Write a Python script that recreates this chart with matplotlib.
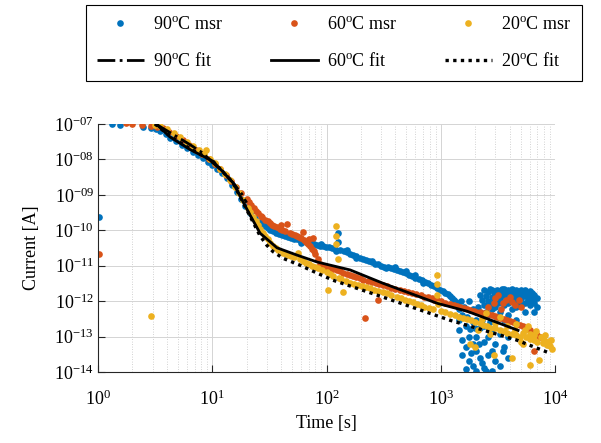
import matplotlib.pyplot as plt

plt.rcParams['font.family'] = 'Liberation Serif'
plt.rcParams['mathtext.fontset'] = 'custom'
plt.rcParams['mathtext.rm'] = 'Liberation Serif'
plt.rcParams['mathtext.it'] = 'Liberation Serif:italic'

msr_90 = [
    (1.03, 2.3e-10), (1.33, 1.0e-7), (1.56, 9.3e-8), (2.5, 8.0e-8), (2.9, 7.9e-8),
    (3.2, 7.3e-8), (3.5, 6.4e-8), (3.9, 5.1e-8), (4.3, 4.0e-8), (4.8, 3.3e-8),
    (5.4, 2.6e-8), (6.0, 2.1e-8), (6.8, 1.6e-8), (7.5, 1.3e-8), (8.3, 1.1e-8),
    (9.2, 8.5e-9), (10, 7.0e-9), (11, 5.5e-9), (12.2, 4.2e-9), (13.5, 3.0e-9),
    (15, 1.9e-9), (16.5, 1.2e-9), (18, 7.5e-10), (19.5, 4.8e-10), (21.4, 3.0e-10),
    (23.5, 2.2e-10), (26, 1.7e-10), (29, 1.3e-10), (32, 1.05e-10), (36, 8.5e-11),
    (41, 7.2e-11), (46, 6.3e-11), (52, 5.7e-11), (59, 5.2e-11), (66, 4.7e-11),
    (74, 4.3e-11), (83, 3.9e-11), (93, 3.6e-11), (105, 3.3e-11), (118, 3.0e-11),
    (125, 8.5e-11), (125, 4.6e-11), (132, 2.8e-11), (150, 2.4e-11), (170, 2.0e-11),
    (195, 1.7e-11), (220, 1.45e-11), (250, 1.25e-11), (285, 1.1e-11), (320, 9.5e-12),
    (365, 8.7e-12), (415, 7.8e-12), (470, 6.6e-12), (530, 5.6e-12), (600, 4.6e-12),
    (680, 3.9e-12), (770, 3.2e-12), (870, 2.6e-12), (980, 2.1e-12), (1100, 1.7e-12),
    (1200, 1.4e-12), (1300, 1.1e-12), (1400, 8.5e-13),
    (27.5, 1.5e-10), (30.5, 1.15e-10), (34, 9.5e-11), (38.5, 7.8e-11), (43.5, 6.8e-11),
    (49, 6.0e-11), (55, 5.5e-11), (62, 5.0e-11), (70, 4.5e-11), (78, 4.1e-11),
    (88, 3.7e-11), (99, 3.4e-11), (111, 3.1e-11), (141, 2.6e-11), (160, 2.2e-11),
    (182, 1.85e-11), (207, 1.55e-11), (235, 1.35e-11), (267, 1.15e-11), (302, 1.0e-11),
    (342, 9.0e-12), (390, 8.2e-12), (442, 7.2e-12), (500, 6.1e-12), (565, 5.1e-12),
    (640, 4.2e-12), (725, 3.5e-12), (820, 2.9e-12), (925, 2.3e-12), (1040, 1.9e-12),
    (1150, 1.55e-12), (1250, 1.25e-12), (1350, 9.5e-13),
    (60, 4.4e-11), (90, 4.2e-11), (150, 2.8e-11), (250, 1.4e-11), (400, 9.2e-12),
    (600, 5.4e-12), (900, 2.9e-12), (120, 2.6e-11), (180, 1.65e-11), (330, 8.4e-12),
    (500, 7.0e-12), (700, 3.3e-12),
    (1450, 6e-13), (1450, 3e-13), (1450, 1.5e-13), (1550, 4e-13), (1550, 8e-14),
    (1550, 3e-14), (1650, 2e-13), (1650, 5e-14), (1650, 1.2e-14), (1750, 1e-12),
    (1750, 1e-13), (1750, 2e-14), (1900, 6e-13), (1900, 2.5e-13), (1900, 6e-14),
    (1900, 1.5e-14), (2050, 3e-13), (2050, 1e-13), (2050, 4e-14), (2050, 1.1e-14),
    (2200, 1.5e-12), (2200, 5e-13), (2200, 1.8e-13), (2200, 2.5e-14), (2400, 2e-12),
    (2400, 8e-13), (2400, 2e-13), (2400, 7e-14), (2400, 1.3e-14), (2600, 1.8e-12),
    (2600, 1e-12), (2600, 4e-13), (2600, 1e-13), (2600, 3e-14), (2800, 2e-12),
    (2800, 1.3e-12), (2800, 6e-13), (2800, 1.5e-13), (2800, 4e-14), (2800, 1.1e-14),
    (3000, 1.6e-12), (3000, 7e-13), (3000, 2.5e-13), (3000, 6e-14), (3000, 2e-14),
    (3300, 1.9e-12), (3300, 1.2e-12), (3300, 5e-13), (3300, 1.2e-13), (3300, 1.5e-14),
    (3600, 2.2e-12), (3600, 1.5e-12), (3600, 8e-13), (3600, 3e-13), (3600, 5e-14),
    (3900, 2.1e-12), (3900, 1.4e-12), (3900, 9e-13), (3900, 4e-13), (3900, 1e-13),
    (3900, 2.5e-14), (4200, 2.2e-12), (4200, 1.6e-12), (4200, 1e-12), (4200, 6e-13),
    (4600, 2.0e-12), (4600, 1.5e-12), (4600, 1e-12), (4600, 7e-13), (4600, 3e-13),
    (5000, 2.1e-12), (5000, 1.7e-12), (5000, 1.2e-12), (5000, 8e-13), (5500, 2e-12),
    (5500, 1.4e-12), (5500, 9e-13), (5500, 5e-13), (6000, 1.9e-12), (6000, 1.3e-12),
    (6000, 8e-13), (6600, 1.5e-12), (6600, 9e-13), (6600, 5e-13), (7000, 1.2e-12),
    (7000, 7e-13),
    (1500, 1e-12), (1600, 7e-13), (1700, 3.5e-13), (1800, 1.6e-13), (1850, 3.5e-14),
    (2000, 1.8e-13), (2100, 7e-13), (2150, 6e-14), (2300, 1.1e-12), (2300, 3e-13),
    (2300, 1.8e-14), (2500, 1.4e-12), (2500, 5e-13), (2700, 2.2e-12), (2700, 8e-13),
    (2700, 2.5e-13), (2900, 1.8e-12), (2900, 1e-12), (3100, 2.1e-12), (3150, 9e-13),
    (3400, 1.5e-12), (3450, 2.2e-12), (3750, 1.8e-12), (3750, 1.1e-12), (4050, 1.9e-12),
    (4050, 1.2e-12), (4400, 1.8e-12), (4400, 1.3e-12), (4800, 1.8e-12), (4800, 9e-13),
    (5200, 1.5e-12), (5200, 1.9e-12), (5800, 1.7e-12), (5800, 1.1e-12), (6300, 1.7e-12),
    (6300, 1.1e-12), (3500, 4e-14), (2500, 1.1e-14),
]

msr_60 = [
    (1.03, 2.1e-11), (1.76, 1.05e-7), (1.98, 1.0e-7), (2.43, 9.3e-8), (2.9, 8.8e-8),
    (3.3, 8.5e-8), (3.7, 7.5e-8), (4.2, 6.0e-8), (4.8, 4.6e-8), (5.5, 3.5e-8),
    (6.3, 2.6e-8), (7.2, 1.9e-8), (8.2, 1.4e-8), (9.3, 1.05e-8), (10.5, 7.5e-9),
    (11.8, 5.2e-9), (13.2, 3.6e-9), (14.7, 2.5e-9), (16.3, 1.7e-9), (18, 1.15e-9),
    (20, 7.8e-10), (22, 5.2e-10), (24, 3.6e-10), (26.5, 2.6e-10), (29, 2.0e-10),
    (32, 1.6e-10), (35, 1.3e-10), (39, 1.1e-10), (43, 9.5e-11), (45, 1.5e-10),
    (48, 8.5e-11), (53, 7.5e-11), (58, 6.4e-11), (62, 9e-11), (66, 4.8e-11),
    (72, 3.5e-11), (76, 6.0e-11), (80, 2.2e-11), (88, 1.1e-11), (100, 9.5e-12),
    (115, 8.2e-12), (131, 7.1e-12), (150, 5.8e-12), (170, 5.0e-12), (196, 4.4e-12),
    (217, 3.3e-13), (230, 3.8e-12), (270, 3.2e-12), (280, 1.1e-12), (312, 2.8e-12),
    (370, 2.4e-12), (440, 2.0e-12), (520, 1.8e-12), (610, 1.6e-12), (720, 1.35e-12),
    (830, 1.2e-12), (930, 1.05e-12), (1100, 9.0e-13), (1300, 7.8e-13), (1470, 6.8e-13),
    (1700, 6.0e-13), (1950, 5.3e-13), (2200, 4.9e-13), (2600, 7e-13), (2600, 4.2e-13),
    (3000, 1.2e-12), (3000, 3.7e-13), (3300, 3.3e-13), (3500, 9e-13), (3800, 2.9e-13),
    (4000, 1.3e-12), (4300, 2.5e-13), (4500, 8e-13), (4940, 2.1e-13), (5000, 7e-13),
    (5600, 1.8e-13), (6000, 1.5e-13), (6500, 4e-14), (6800, 1.2e-13), (7400, 1.0e-13),
    (21, 6.3e-10), (23, 4.3e-10), (25, 3.0e-10), (27.5, 2.3e-10), (30.5, 1.8e-10),
    (33.5, 1.45e-10), (37, 1.2e-10), (41, 1.0e-10), (50, 8e-11), (55, 7e-11),
    (60, 6e-11), (64, 5.2e-11), (69, 4.2e-11), (74, 3.0e-11), (78, 2.6e-11),
    (84, 1.5e-11), (93, 1.0e-11), (107, 8.8e-12), (123, 7.6e-12), (140, 6.4e-12),
    (160, 5.4e-12), (183, 4.7e-12), (210, 4.0e-12), (250, 3.5e-12), (290, 3.0e-12),
    (340, 2.6e-12), (400, 2.2e-12), (480, 1.9e-12), (565, 1.7e-12), (665, 1.45e-12),
    (775, 1.28e-12), (880, 1.1e-12), (1000, 9.8e-13), (1200, 8.4e-13), (1400, 7.2e-13),
    (1600, 6.4e-13), (1820, 5.6e-13), (2050, 5.1e-13), (2400, 4.5e-13), (2800, 4e-13),
    (3100, 3.5e-13), (3550, 3.1e-13), (4050, 2.7e-13), (4600, 2.3e-13), (5200, 2e-13),
    (5800, 1.6e-13), (6400, 1.3e-13), (7000, 1.1e-13),
    (2900, 9e-13), (3200, 1.5e-12), (3700, 1.1e-12), (4200, 9.5e-13), (4800, 1.1e-12),
    (3400, 6e-13), (40, 1.4e-10), (70, 5.5e-11),
]

msr_20 = [
    (2.9, 3.8e-13), (3.15, 9.5e-8), (3.5, 8.6e-8), (4.0, 7.0e-8), (4.6, 5.5e-8),
    (5.2, 4.3e-8), (6.0, 3.2e-8), (6.8, 2.4e-8), (7.7, 1.8e-8), (8.9, 1.9e-8),
    (8.5, 1.4e-8), (9.5, 1.05e-8), (10.5, 7.8e-9), (11.7, 5.5e-9), (13, 3.8e-9),
    (14.3, 2.6e-9), (15.7, 1.7e-9), (17, 1.1e-9), (18.6, 7.0e-10), (20.5, 4.3e-10),
    (22.8, 2.4e-10), (25, 1.4e-10), (27.8, 8.5e-11), (30.5, 5.5e-11), (34, 3.6e-11),
    (38, 2.8e-11), (41.6, 2.3e-11), (46, 2.0e-11), (52, 1.75e-11), (56, 2.3e-11),
    (58.6, 1.55e-11), (66, 1.2e-11), (75, 1.0e-11), (85, 8.5e-12), (100, 6.5e-12),
    (104, 2.1e-12), (114, 5.1e-12), (121, 1.3e-10), (121, 7e-11), (121, 4e-11),
    (125, 1.5e-11), (135, 4.2e-12), (140, 1.8e-12), (160, 3.2e-12), (190, 2.8e-12),
    (220, 2.5e-12), (260, 2.1e-12), (312, 1.8e-12), (370, 1.5e-12), (450, 1.2e-12),
    (530, 1.0e-12), (620, 8.3e-13), (720, 7.0e-13), (850, 5.9e-13), (920, 5.3e-12),
    (920, 3.0e-12), (930, 1.5e-12), (940, 8.5e-13), (1000, 5.3e-13), (1200, 4.3e-13),
    (1450, 3.6e-13), (1700, 3.1e-13), (1800, 6e-14), (2000, 2.6e-13), (2100, 1.5e-13),
    (2350, 2.1e-13), (2500, 4.5e-13), (2700, 1.8e-13), (2900, 3e-14), (3300, 1.5e-13),
    (3300, 3.5e-13), (3800, 1.3e-13), (4200, 2.5e-14), (4600, 1.1e-13), (4600, 2.2e-13),
    (5000, 7e-14), (5600, 9.5e-14), (5800, 2.0e-13), (6000, 1.6e-14), (6500, 7.9e-14),
    (6800, 1.4e-13), (7200, 2.2e-14), (7800, 6.5e-14), (8200, 1.1e-13), (9000, 5.4e-14),
    (9300, 8e-14),
    (21.5, 3.3e-10), (24, 1.8e-10), (26.3, 1.1e-10), (29, 7e-11), (32, 4.5e-11),
    (36, 3.2e-11), (44, 2.15e-11), (49, 1.85e-11), (62, 1.35e-11), (70, 1.1e-11),
    (80, 9.2e-12), (92, 7.4e-12), (107, 5.8e-12), (128, 4.5e-12), (148, 3.6e-12),
    (175, 3.0e-12), (205, 2.65e-12), (240, 2.3e-12), (285, 1.95e-12), (340, 1.65e-12),
    (410, 1.35e-12), (490, 1.1e-12), (575, 9.2e-13), (670, 7.6e-13), (785, 6.4e-13),
    (1100, 4.8e-13), (1320, 4.0e-13), (1580, 3.3e-13), (1850, 2.85e-13), (2200, 2.4e-13),
    (2550, 2.0e-13), (3000, 1.7e-13), (3550, 1.4e-13), (4200, 1.2e-13), (4900, 1.0e-13),
    (5300, 1.3e-13), (6100, 8.5e-14), (7000, 7e-14), (8500, 5.8e-14), (6000, 1.2e-13),
    (7500, 1.0e-13), (8800, 7.5e-14), (2300, 3.2e-13), (3000, 2.4e-13), (3800, 2.0e-13),
    (4500, 1.5e-13), (5500, 1.5e-13), (6500, 1.1e-13), (8000, 8e-14), (9500, 4.5e-14),
    (5200, 6e-14), (2000, 5e-14), (2700, 1.2e-13),
]

# fitted curves
fit_90 = [(3.2, 1.0e-7), (4.9, 4.4e-8), (6.4, 2.6e-8), (8.3, 1.5e-8), (10.1, 8e-9),
          (12.5, 4.5e-9), (15.2, 2.2e-9), (18, 1.1e-9), (20, 6e-10)]
fit_60 = [(3.15, 1.07e-7), (4.27, 4.3e-8), (6.4, 1.9e-8), (10.1, 9e-9), (15.2, 2.2e-9),
          (21.4, 2.7e-10), (26.2, 8.3e-11), (36.9, 3.2e-11), (55, 2.0e-11),
          (83, 1.27e-11), (161, 7.6e-12), (312, 3.2e-12), (930, 8.7e-13),
          (1700, 5.2e-13), (4750, 1.5e-13)]
fit_20 = [(3.15, 1.0e-7), (4.3, 4.5e-8), (6.4, 2.0e-8), (10.1, 9e-9), (15.2, 2.2e-9),
          (21.4, 2.5e-10), (26.2, 7e-11), (30, 3.8e-11), (34, 2.5e-11), (42, 1.6e-11),
          (58, 1.05e-11), (76, 7e-12), (114, 3.9e-12), (312, 1.3e-12), (1200, 2.9e-13),
          (4600, 8e-14), (9000, 3.4e-14)]

labels = ['90$^{\\rm o}$C msr', '60$^{\\rm o}$C msr', '20$^{\\rm o}$C msr',
          '90$^{\\rm o}$C fit', '60$^{\\rm o}$C fit', '20$^{\\rm o}$C fit']
colors = ['#0072BD', '#D95319', '#EDB120']
xticks = [1e0, 1e1, 1e2, 1e3, 1e4]
xticklabels = ['$10^{0}$', '$10^{1}$', '$10^{2}$', '$10^{3}$', '$10^{4}$']
yticks = [1e-14, 1e-13, 1e-12, 1e-11, 1e-10, 1e-9, 1e-8, 1e-7]
yticklabels = ['$10^{-14}$', '$10^{-13}$', '$10^{-12}$', '$10^{-11}$',
               '$10^{-10}$', '$10^{-09}$', '$10^{-08}$', '$10^{-07}$']

fig = plt.figure(figsize=(6.01, 4.43), dpi=100)
ax = fig.add_axes([98 / 601, 1 - 372 / 443, 457 / 601, 248 / 443])

handles = []
for data, c, lab in zip([msr_90, msr_60, msr_20], colors, labels[:3]):
    t, i = zip(*data)
    h, = ax.plot(t, i, 'o', color=c, ms=4.8, mew=0, label=lab, zorder=2)
    handles.append(h)

fit_styles = [dict(ls='-.', lw=2.0), dict(ls='-', lw=2.0), dict(ls=(0, (1, 1.3)), lw=2.4)]
for data, st, lab in zip([fit_90, fit_60, fit_20], fit_styles, labels[3:]):
    t, i = zip(*data)
    h, = ax.plot(t, i, color='black', label=lab, zorder=3, **st)
    handles.append(h)

ax.set_xscale('log')
ax.set_yscale('log')
ax.set_xlim(1, 1e4)
ax.set_ylim(1e-14, 1e-7)
ax.set_xticks(xticks)
ax.set_xticklabels(xticklabels)
ax.set_yticks(yticks)
ax.set_yticklabels(yticklabels)
ax.tick_params(which='major', direction='in', length=5, width=0.8, labelsize=13,
               colors='#262626', labelcolor='black')
ax.tick_params(which='minor', length=0)
ax.tick_params(axis='x', pad=13)
ax.tick_params(axis='y', pad=3)
ax.grid(True, which='major', color='#d4d4d4', lw=0.7, ls='-')
ax.grid(True, which='minor', color='#c4c4c4', lw=0.6, ls=(0, (1, 2)))
ax.set_axisbelow(True)
for s in ['top', 'right']:
    ax.spines[s].set_visible(False)
for s in ['left', 'bottom']:
    ax.spines[s].set_color('#262626')
    ax.spines[s].set_linewidth(0.8)

ax.set_xlabel('Time [s]', fontsize=13, labelpad=4)
ax.set_ylabel('Current [A]', fontsize=13, labelpad=10)

order = [0, 3, 1, 4, 2, 5]
leg = fig.legend([handles[k] for k in order], [labels[k] for k in order], ncol=3,
                 loc='center', bbox_to_anchor=(86 / 601, 1 - 82 / 443, 496 / 601, 78 / 443),
                 mode='expand', fontsize=13, handlelength=2.6, labelspacing=1.07,
                 borderaxespad=0, fancybox=False, framealpha=1, edgecolor='black',
                 columnspacing=1.5, borderpad=0.6, handletextpad=0.5)
leg.get_frame().set_linewidth(0.8)

fig.savefig('out.png', dpi=100)
